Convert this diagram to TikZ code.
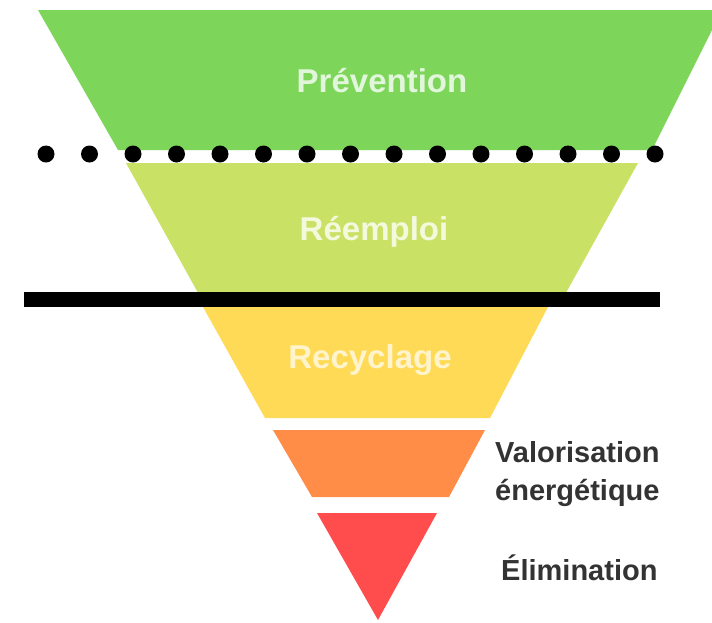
\documentclass[tikz,border=0pt]{standalone}
\usepackage{fontspec}
\setmainfont{Liberation Sans}
\definecolor{cprev}{HTML}{7DD65A}
\definecolor{creem}{HTML}{C9E265}
\definecolor{crec}{HTML}{FFDA56}
\definecolor{cval}{HTML}{FF8C47}
\definecolor{celim}{HTML}{FF4D4D}
\definecolor{sidetext}{HTML}{333333}
\begin{document}
\begin{tikzpicture}[x=1pt,y=-1pt,
  bandtext/.style={font=\fontsize{33}{36}\selectfont\bfseries, anchor=base, inner sep=0pt},
  sidelabel/.style={font=\fontsize{29}{38}\selectfont\bfseries, text=sidetext, inner sep=0pt}]
\useasboundingbox (0,0) rectangle (712,622);
\fill[white] (0,0) rectangle (712,622);
% bands
\fill[cprev] (38,10) -- (722,10) -- (652,150) -- (118,150) -- cycle;
\fill[creem] (126,163) -- (638,163) -- (562,300) -- (202,300) -- cycle;
\fill[crec] (203,307) -- (548,307) -- (490,418) -- (265,418) -- cycle;
\fill[cval] (273,430) -- (485,430) -- (449,497) -- (312,497) -- cycle;
\fill[celim] (317,513) -- (437,513) -- (378,620) -- cycle;
% separators
\foreach \i in {0,...,14} \fill[black] (46+\i*43.5,154) circle [radius=8.5pt];
\fill[black] (24,292) rectangle (660,307);
% texts
\node[bandtext, text=white!78!cprev] (prev) at (382,92) {Prévention};
\node[bandtext, text=white!78!creem] (reem) at (374,240) {Réemploi};
\node[bandtext, text=white!70!crec] (rec) at (370,368) {Recyclage};
\node[sidelabel, align=left, anchor=base west] (val) at (495,500) {Valorisation\\énergétique};
\node[sidelabel, anchor=base west] (elim) at (501,580) {Élimination};
\end{tikzpicture}
\end{document}
